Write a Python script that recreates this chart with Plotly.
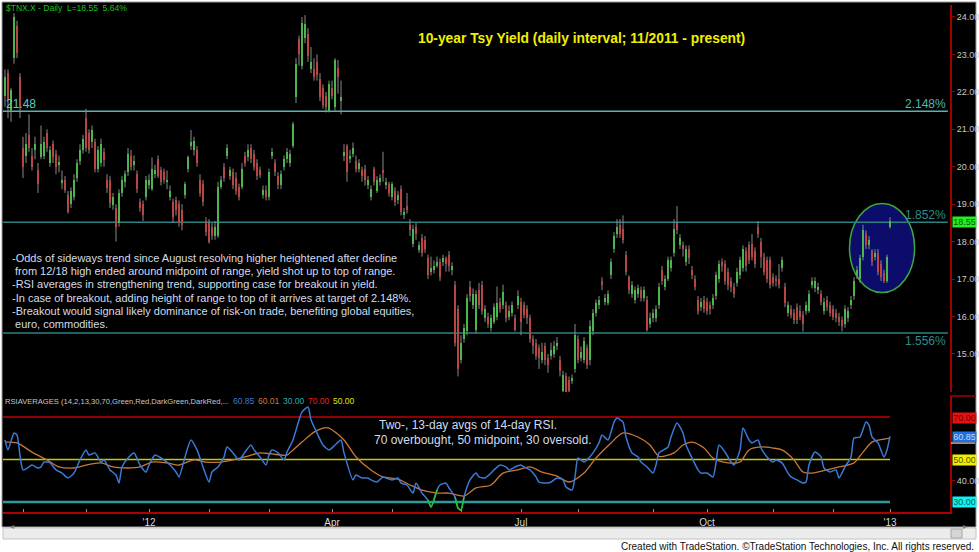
import plotly.graph_objects as go

W, H = 979, 552

# ---------------- data ----------------
opens = [
    21.9, 22.5, 21.5, 22.9, 23.75, 22.4, 20.5, 20.3, 20.85, 20.3,
    20.45, 19.9, 20.25, 20.3, 20.9, 20.1, 20.6, 20.35, 20.05, 19.57,
    19.65, 19.25, 19.0, 19.2, 19.7, 20.15, 20.45, 21.3, 20.9, 20.65,
    20.65, 19.95, 20.1, 20.4, 19.65, 19.65, 18.98, 18.9, 18.5, 19.3,
    19.6, 19.85, 20.3, 20.05, 19.8, 19.05, 19.0, 19.2, 19.5, 19.4,
    19.8, 20.2, 19.9, 19.85, 19.6, 19.2, 19.05, 19.1, 19.0, 18.85,
    19.25, 19.95, 20.55, 20.45, 20.45, 19.65, 19.55, 18.55, 18.5, 18.4,
    18.15, 18.15, 19.45, 20.0, 20.3, 19.75, 19.85, 19.7, 19.45, 19.45,
    20.3, 20.25, 20.5, 20.35, 20.1, 19.9, 19.25, 19.38, 19.2, 20.3,
    20.1, 19.75, 19.5, 20.0, 20.2, 20.1, 20.55, 21.85, 23.4, 22.7,
    23.45, 23.55, 22.6, 22.6, 22.8, 22.35, 22.1, 21.9, 21.5, 22.1,
    21.6, 22.65, 21.75, 20.3, 20.55, 20.2, 20.35, 20.15, 19.95, 19.9,
    19.95, 19.5, 19.2, 19.95, 19.35, 19.6, 19.9, 19.5, 19.55, 19.2,
    19.35, 19.1, 19.4, 18.72, 18.95, 18.45, 17.95, 18.4, 17.78, 18.1,
    18.05, 17.55, 17.2, 17.25, 17.35, 17.45, 17.45, 17.55, 17.65, 17.25,
    16.85, 16.2, 14.85, 15.4, 15.6, 16.8, 16.3, 15.65, 16.7, 16.85,
    15.95, 16.0, 15.7, 15.85, 16.0, 16.4, 16.3, 16.3, 16.0, 16.1,
    15.95, 16.3, 16.4, 16.3, 16.2, 15.95, 15.4, 15.3, 15.15, 14.85,
    15.2, 14.9, 14.95, 15.0, 15.2, 14.85, 14.0, 14.4, 14.3, 14.3,
    14.6, 15.4, 14.9, 14.85, 15.15, 14.85, 15.6, 16.1, 16.3, 16.95,
    16.4, 16.35, 17.1, 17.8, 18.2, 18.45, 18.35, 17.65, 17.05, 16.6,
    16.45, 16.6, 16.7, 16.5, 16.45, 15.8, 15.95, 15.95, 16.3, 17.25,
    16.8, 17.0, 17.3, 17.7, 18.5, 17.9, 17.9, 17.45, 17.8, 17.25,
    17.0, 16.45, 16.25, 16.45, 16.4, 16.3, 16.3, 16.55, 17.0, 17.45,
    17.4, 17.2, 16.95, 16.8, 16.9, 17.1, 17.3, 17.75, 17.9, 17.95,
    17.75, 18.4, 18.0, 17.6, 17.5, 17.5, 17.05, 17.0, 17.0, 17.3,
    16.8, 16.1, 16.2, 16.1, 16.25, 16.15, 16.05, 16.15, 16.15, 16.85,
    16.75, 16.7, 16.6, 16.15, 16.45, 16.3, 16.2, 16.1, 16.0, 15.9,
    15.8, 15.95, 16.3, 16.55, 17.1, 17.0, 17.6, 18.2, 17.9, 17.75,
    17.6, 17.7, 17.4, 17.15, 16.95, 18.4,
]
highs = [
    22.6, 22.6, 22.1, 24.1, 23.9, 22.5, 20.8, 20.9, 21.4, 20.5,
    20.8, 20.1, 21.1, 20.8, 21.0, 20.55, 20.7, 20.45, 20.3, 19.9,
    19.75, 19.35, 19.45, 19.8, 20.2, 20.6, 20.85, 21.55, 21.0, 21.1,
    20.75, 20.55, 20.75, 20.5, 19.8, 19.75, 19.3, 19.0, 19.4, 19.75,
    19.9, 20.5, 20.45, 20.3, 19.9, 19.15, 19.1, 19.75, 19.8, 20.25,
    20.05, 20.3, 20.0, 19.95, 19.9, 19.5, 19.15, 19.2, 19.1, 19.0,
    19.6, 20.3, 20.98, 20.8, 20.55, 19.8, 19.65, 18.65, 18.6, 18.5,
    18.55, 19.6, 19.75, 20.1, 20.6, 20.0, 19.95, 19.85, 19.55, 20.1,
    20.4, 20.6, 20.6, 20.45, 20.2, 20.0, 19.5, 19.5, 19.95, 20.5,
    20.2, 19.85, 19.9, 20.3, 20.5, 20.45, 21.2, 22.9, 23.5, 24.0,
    24.05, 23.7, 23.2, 22.9, 23.0, 22.5, 22.2, 22.0, 22.3, 22.3,
    22.9, 22.85, 22.3, 20.6, 20.6, 20.45, 20.65, 20.3, 20.2, 20.0,
    20.05, 19.75, 19.5, 20.0, 19.75, 19.8, 20.4, 19.7, 19.6, 19.6,
    19.45, 19.35, 19.5, 18.9, 19.3, 18.6, 18.45, 18.5, 18.0, 18.2,
    18.15, 17.65, 17.6, 17.5, 17.6, 17.55, 17.65, 17.6, 17.75, 17.45,
    16.95, 16.3, 15.5, 15.8, 16.6, 16.95, 16.75, 16.7, 16.9, 16.95,
    16.3, 16.1, 16.05, 16.35, 16.8, 16.5, 16.85, 16.4, 16.3, 16.4,
    16.05, 16.7, 16.5, 16.4, 16.3, 16.05, 15.5, 15.4, 15.25, 15.3,
    15.3, 15.0, 15.3, 15.35, 15.45, 14.95, 14.55, 14.5, 14.4, 14.45,
    15.8, 15.5, 15.2, 15.45, 15.25, 15.9, 16.2, 16.45, 16.55, 17.05,
    16.6, 16.7, 17.55, 18.25, 18.6, 18.6, 18.7, 17.75, 17.1, 16.95,
    16.8, 16.85, 16.8, 16.8, 16.55, 16.1, 16.2, 16.3, 16.9, 17.35,
    17.1, 17.6, 17.6, 18.6, 18.95, 18.2, 18.0, 17.9, 17.9, 17.35,
    17.1, 16.55, 16.5, 16.55, 16.5, 16.4, 16.6, 17.2, 17.5, 17.55,
    17.5, 17.3, 17.05, 16.9, 17.3, 17.6, 17.9, 17.85, 18.0, 18.2,
    17.85, 18.55, 18.1, 17.7, 17.6, 17.6, 17.15, 17.1, 17.4, 17.6,
    16.9, 16.4, 16.3, 16.2, 16.35, 16.3, 16.15, 16.4, 16.7, 17.05,
    17.05, 16.9, 16.7, 16.5, 16.55, 16.4, 16.3, 16.2, 16.1, 16.0,
    16.3, 16.25, 16.55, 17.05, 17.35, 17.65, 18.45, 18.3, 18.15, 17.8,
    17.8, 17.8, 17.5, 17.25, 17.65, 18.65,
]
lows = [
    21.6, 21.3, 21.2, 22.75, 22.9, 21.3, 19.7, 20.1, 20.4, 19.9,
    20.2, 19.3, 20.2, 20.2, 20.4, 20.0, 20.1, 19.8, 19.85, 19.4,
    19.3, 18.75, 18.9, 19.1, 19.6, 20.05, 20.35, 20.4, 20.35, 20.5,
    19.85, 19.85, 20.0, 20.0, 19.3, 18.9, 18.85, 18.0, 18.4, 19.2,
    19.45, 19.75, 19.9, 19.9, 19.3, 18.8, 18.55, 19.1, 19.4, 19.35,
    19.7, 19.7, 19.5, 19.55, 19.4, 19.1, 18.5, 18.7, 18.4, 18.3,
    19.15, 19.85, 20.45, 20.3, 20.0, 19.2, 18.95, 18.15, 17.95, 18.05,
    18.05, 18.1, 19.4, 19.6, 20.2, 19.65, 19.4, 19.25, 19.1, 19.4,
    20.0, 20.15, 20.1, 19.9, 19.65, 19.7, 19.15, 19.1, 19.1, 20.2,
    19.75, 19.4, 19.4, 19.9, 20.1, 20.0, 20.5, 21.7, 22.7, 22.6,
    23.3, 22.8, 22.5, 22.3, 22.3, 21.75, 21.55, 21.45, 21.45, 21.8,
    21.5, 21.95, 21.4, 20.15, 19.6, 20.1, 20.25, 19.85, 19.85, 19.6,
    19.5, 19.4, 19.1, 19.5, 19.3, 19.5, 19.6, 19.4, 19.2, 19.1,
    18.95, 19.0, 18.7, 18.6, 18.75, 18.15, 17.85, 18.05, 17.7, 17.6,
    17.7, 17.0, 17.1, 17.15, 17.3, 16.95, 17.35, 17.2, 17.2, 17.1,
    15.2, 14.4, 14.75, 15.3, 15.5, 16.4, 16.2, 15.55, 16.2, 16.05,
    15.85, 15.7, 15.6, 15.8, 15.9, 16.1, 16.2, 15.85, 15.9, 16.0,
    15.6, 16.2, 15.5, 15.95, 15.8, 15.3, 15.0, 14.85, 14.6, 14.75,
    14.7, 14.5, 14.85, 14.9, 15.1, 14.4, 13.95, 13.9, 13.95, 14.2,
    14.5, 14.75, 14.8, 14.75, 14.6, 14.7, 15.5, 16.0, 16.2, 16.7,
    16.3, 16.3, 17.0, 17.7, 18.1, 18.1, 17.95, 17.1, 16.6, 16.5,
    16.35, 16.5, 16.4, 16.4, 15.6, 15.7, 15.85, 15.85, 16.2, 16.85,
    16.7, 16.95, 17.2, 17.6, 18.2, 17.8, 17.6, 17.35, 17.4, 17.0,
    16.7, 16.05, 16.15, 16.1, 16.05, 16.05, 16.2, 16.45, 16.9, 17.2,
    16.85, 16.7, 16.65, 16.5, 16.8, 17.0, 17.2, 17.2, 17.4, 17.5,
    17.3, 18.1, 17.3, 17.1, 16.9, 16.75, 16.8, 16.8, 16.75, 17.2,
    16.25, 16.0, 15.95, 15.8, 15.8, 15.9, 15.6, 16.05, 16.1, 16.75,
    16.65, 16.6, 16.3, 16.05, 16.15, 16.0, 15.9, 15.85, 15.75, 15.6,
    15.7, 15.85, 16.2, 16.45, 17.0, 16.9, 17.5, 17.8, 17.8, 17.35,
    17.5, 17.1, 16.95, 16.9, 16.9, 18.35,
]
closes = [
    22.4, 21.8, 22.05, 24.0, 23.05, 21.6, 20.0, 20.6, 20.5, 20.0,
    20.6, 19.55, 20.6, 20.65, 20.5, 20.45, 20.25, 20.0, 20.12, 19.65,
    19.38, 18.8, 19.35, 19.65, 20.1, 20.45, 20.75, 20.5, 20.45, 20.98,
    19.95, 20.45, 20.6, 20.18, 19.43, 19.03, 19.18, 18.4, 19.3, 19.65,
    19.8, 20.35, 20.0, 20.15, 19.4, 18.9, 18.7, 19.65, 19.65, 19.95,
    19.9, 19.75, 19.6, 19.65, 19.65, 19.35, 18.65, 18.85, 18.5, 18.45,
    19.55, 20.25, 20.65, 20.7, 20.1, 19.3, 19.05, 18.25, 18.0, 18.15,
    18.4, 19.45, 19.65, 19.7, 20.5, 19.9, 19.5, 19.35, 19.2, 19.95,
    20.1, 20.45, 20.2, 20.0, 19.75, 19.78, 19.38, 19.2, 19.85, 20.4,
    19.85, 19.5, 19.8, 20.2, 20.4, 20.35, 21.15, 22.75, 23.0, 23.85,
    23.8, 22.95, 22.8, 22.4, 22.45, 21.85, 21.65, 21.6, 22.2, 21.9,
    22.85, 22.4, 21.85, 20.4, 19.85, 20.3, 20.5, 19.95, 20.1, 19.75,
    19.65, 19.65, 19.4, 19.6, 19.65, 19.7, 19.82, 19.6, 19.3, 19.55,
    19.05, 19.25, 18.8, 18.8, 18.85, 18.3, 18.35, 18.2, 17.9, 17.7,
    17.8, 17.1, 17.3, 17.35, 17.45, 17.05, 17.55, 17.4, 17.35, 17.35,
    15.3, 14.6, 15.3, 15.7, 16.5, 16.55, 16.6, 16.6, 16.3, 16.15,
    16.2, 15.8, 15.95, 16.25, 16.35, 16.2, 16.65, 15.95, 16.15, 16.3,
    15.65, 16.55, 15.85, 16.05, 15.95, 15.4, 15.2, 14.95, 14.9, 15.05,
    14.85, 14.7, 15.1, 15.2, 15.3, 14.55, 14.45, 13.95, 14.0, 14.35,
    15.5, 14.85, 15.05, 15.35, 14.7, 15.75, 16.1, 16.35, 16.45, 16.85,
    16.5, 16.6, 17.45, 18.15, 18.4, 18.2, 18.05, 17.2, 16.7, 16.85,
    16.7, 16.75, 16.5, 16.7, 15.65, 15.95, 16.1, 16.2, 16.8, 16.95,
    17.0, 17.5, 17.5, 18.35, 18.3, 18.1, 17.8, 17.8, 17.55, 17.1,
    16.8, 16.15, 16.4, 16.2, 16.15, 16.2, 16.5, 17.1, 17.4, 17.35,
    16.95, 16.85, 16.8, 16.6, 17.2, 17.5, 17.8, 17.35, 17.5, 17.6,
    17.4, 18.2, 17.6, 17.2, 17.0, 16.85, 16.9, 16.95, 16.85, 17.5,
    16.35, 16.3, 16.05, 15.9, 15.9, 16.0, 15.8, 16.3, 16.6, 16.95,
    16.95, 16.8, 16.4, 16.4, 16.25, 16.1, 16.0, 15.95, 15.85, 15.75,
    16.2, 16.15, 16.45, 16.95, 17.25, 17.55, 18.3, 17.9, 18.05, 17.45,
    17.7, 17.2, 17.05, 16.95, 17.6, 18.55,
]

# x-axis (bar index) month ticks and labels
month_tick_pos = [6, 27, 48, 68, 88, 109, 129, 152, 172, 191, 216, 234, 256, 276, 295]
month_tick_text = ["", "", "'12", "", "", "Apr", "", "", "Jul", "", "", "Oct", "", "", "'13"]

price_ticks = [15, 16, 17, 18, 19, 20, 21, 22, 23, 24]
rsi_ticks = [40]

# RSI averages (2-day avg = blue, 13-day avg = orange)
blue_x = [0, 1, 3, 4, 5, 6, 8, 9, 11, 12, 13, 15, 17, 19, 21, 23, 25, 27, 28, 30,
          32, 33, 35, 37, 38, 39, 41, 43, 45, 47, 48, 50, 52, 53, 55, 57, 58, 60, 62, 64,
          66, 68, 69, 71, 73, 74, 76, 78, 80, 82, 83, 85, 87, 88, 89, 91, 93, 94, 96, 98,
          99, 101, 102, 104, 106, 108, 110, 112, 113, 116, 117, 119, 121, 122, 124, 126, 127, 129, 131, 132,
          134, 136, 137, 139, 141, 142, 144, 145, 147, 148, 150, 151, 152, 153, 155, 157, 158, 160, 162, 163,
          165, 167, 168, 170, 172, 173, 175, 177, 178, 181, 182, 184, 186, 187, 189, 190, 191, 193, 194, 196,
          198, 199, 201, 203, 204, 206, 207, 209, 211, 212, 214, 216, 217, 218, 221, 222, 224, 226, 227, 229,
          231, 232, 234, 236, 237, 238, 240, 242, 243, 245, 246, 248, 249, 251, 252, 254, 256, 257, 259, 261,
          262, 264, 266, 267, 268, 270, 272, 273, 275, 277, 278, 280, 282, 283, 285, 287, 288, 289, 291, 293,
          294, 295]
blue_y = [59.2, 54.5, 62.5, 61.5, 52.0, 45.1, 46.5, 47.4, 46.0, 46.5, 48.8, 48.4, 45.1, 43.6, 41.3, 43.6, 49.8, 54.5, 52.1, 53.1,
          48.8, 49.8, 45.1, 42.7, 38.9, 46.5, 50.7, 53.1, 47.4, 44.1, 47.4, 52.1, 50.7, 49.8, 47.4, 44.1, 41.8, 51.2, 59.2, 54.5,
          46.5, 39.4, 44.1, 46.5, 51.2, 55.9, 53.1, 49.8, 53.5, 56.8, 54.5, 51.2, 47.4, 52.1, 54.5, 53.1, 49.8, 53.5, 59.2, 68.6,
          72.4, 74.7, 68.6, 62.5, 56.8, 54.5, 56.8, 59.2, 53.1, 40.4, 42.7, 41.3, 41.3, 40.4, 39.4, 41.8, 41.3, 40.4, 41.3, 38.9,
          38.0, 34.2, 38.9, 34.2, 30.9, 27.6, 35.6, 38.0, 38.9, 36.6, 32.4, 27.2, 26.2, 32.4, 40.4, 43.6, 41.8, 41.3, 43.6, 45.1,
          47.4, 46.5, 45.1, 46.5, 47.4, 46.5, 45.1, 41.8, 39.4, 38.9, 39.4, 41.3, 40.4, 37.1, 35.6, 41.8, 50.7, 48.8, 49.8, 53.1,
          57.8, 61.5, 59.2, 67.6, 69.5, 67.6, 60.6, 53.1, 51.2, 48.8, 46.5, 43.6, 47.4, 53.1, 55.9, 60.6, 67.2, 62.5, 56.8, 50.7,
          45.1, 43.6, 43.6, 41.8, 48.4, 56.8, 53.5, 48.8, 47.4, 54.5, 64.8, 59.2, 57.8, 59.2, 55.4, 51.2, 48.8, 49.8, 48.4, 43.6,
          41.8, 40.4, 38.9, 39.4, 47.4, 53.5, 51.2, 46.0, 44.1, 45.1, 41.3, 46.5, 51.2, 60.1, 60.6, 67.6, 66.2, 60.6, 57.8, 51.2,
          54.5, 60.85]
orange_x = [0, 4, 9, 14, 18, 23, 27, 32, 36, 41, 45, 49, 54, 58, 63, 67, 72, 76, 81, 85,
            89, 94, 96, 99, 103, 106, 108, 113, 117, 122, 126, 131, 135, 139, 144, 148, 153, 157, 162, 166,
            171, 175, 179, 184, 188, 193, 197, 202, 206, 211, 215, 218, 223, 226, 229, 233, 236, 241, 245, 248,
            252, 256, 259, 263, 266, 269, 274, 278, 283, 286, 289, 293, 295]
orange_y = [58.2, 57.8, 53.5, 49.8, 46.5, 46.0, 47.4, 48.4, 46.5, 46.0, 46.5, 48.8, 48.4, 47.4, 49.8, 48.8, 48.8, 49.8, 51.6, 53.1,
            52.6, 52.1, 54.5, 58.2, 62.9, 64.8, 64.8, 59.2, 51.2, 45.1, 41.8, 40.8, 38.0, 35.6, 34.2, 34.2, 32.8, 36.6, 38.0, 43.6,
            45.1, 46.5, 44.1, 42.2, 39.4, 43.6, 50.7, 57.8, 62.5, 60.6, 56.8, 51.5, 53.1, 56.8, 58.2, 55.4, 50.7, 48.4, 48.8, 54.5,
            55.9, 55.4, 54.5, 49.8, 44.1, 43.6, 45.1, 46.5, 48.4, 53.5, 58.2, 59.6, 60.01]
green_ranges = [(141, 144), (150, 153)]

level_lines = [21.48, 18.52, 15.56]
level_colors = ["#52b4b4", "#2c8282", "#2c8282"]
rsi_levels = [70, 50, 30]
rsi_level_colors = ["#c00000", "#c8c800", "#2a9a9a"]
rsi_level_widths = [1.5, 1.5, 2.5]

comment_lines = [
    "-Odds of sideways trend since August resolving higher heightened after decline",
    " from 12/18 high ended around midpoint of range, yield shot up to top of range.",
    "-RSI averages in strengthening trend, supporting case for breakout in yield.",
    "-In case of breakout, adding height of range to top of it arrives at target of 2.148%.",
    "-Breakout would signal likely dominance of risk-on trade, benefiting global equities,",
    " euro, commodities.",
]

FONT = "Liberation Sans, Arial, sans-serif"


def px(x):
    return x / W


def py(y):
    return 1 - y / H


fig = go.Figure()
n = min(len(opens), len(highs), len(lows), len(closes))
idx = list(range(n))

# wicks
wx, wy = [], []
for i in idx:
    wx += [i, i, None]
    wy += [lows[i], highs[i], None]
fig.add_trace(go.Scatter(x=wx, y=wy, mode="lines", line=dict(color="#8a8a8a", width=1),
                         xaxis="x", yaxis="y", hoverinfo="skip"))

up = [i for i in idx if closes[i] >= opens[i]]
dn = [i for i in idx if closes[i] < opens[i]]
fig.add_trace(go.Bar(x=up, base=[opens[i] for i in up], y=[max(closes[i] - opens[i], 0.03) for i in up],
                     width=0.8, marker=dict(color="#10e010", line=dict(width=0)), xaxis="x", yaxis="y"))
fig.add_trace(go.Bar(x=dn, base=[closes[i] for i in dn], y=[opens[i] - closes[i] for i in dn],
                     width=0.8, marker=dict(color="#e80000", line=dict(width=0)), xaxis="x", yaxis="y"))

# RSI lines
fig.add_trace(go.Scatter(x=orange_x, y=orange_y, mode="lines",
                         line=dict(color="#c87838", width=1.3, shape="spline", smoothing=0.8),
                         xaxis="x2", yaxis="y2", hoverinfo="skip"))
fig.add_trace(go.Scatter(x=blue_x, y=blue_y, mode="lines",
                         line=dict(color="#3a7ad8", width=1.5, shape="spline", smoothing=0.6),
                         xaxis="x2", yaxis="y2", hoverinfo="skip"))
for a, b in green_ranges:
    gx = [x for x in blue_x if a <= x <= b]
    gy = [blue_y[k] for k, x in enumerate(blue_x) if a <= x <= b]
    fig.add_trace(go.Scatter(x=gx, y=gy, mode="lines",
                             line=dict(color="#22c822", width=1.6, shape="spline", smoothing=0.6),
                             xaxis="x2", yaxis="y2", hoverinfo="skip"))

shapes = []
# black chart frame
shapes.append(dict(type="rect", xref="paper", yref="paper", x0=px(2), x1=px(976), y0=py(527), y1=py(2),
                   fillcolor="black", line=dict(color="#9a9a9a", width=1), layer="below"))
# ellipse highlight
shapes.append(dict(type="circle", xref="x", yref="y", x0=281.5, x1=303.2, y0=16.64, y1=19.02,
                   fillcolor="#0c0c6a", line=dict(color="#3ca83c", width=1.5), layer="below"))
# price levels
for lv, col in zip(level_lines, level_colors):
    shapes.append(dict(type="line", xref="x", yref="y", x0=-0.667, x1=314.3, y0=lv, y1=lv,
                       line=dict(color=col, width=1.5), layer="below"))
# RSI levels
for lv, col, wd in zip(rsi_levels, rsi_level_colors, rsi_level_widths):
    shapes.append(dict(type="line", xref="x2", yref="y2", x0=-0.667, x1=295, y0=lv, y1=lv,
                       line=dict(color=col, width=wd), layer="below"))
# right axis separator and orange marker
shapes.append(dict(type="line", xref="paper", yref="paper", x0=px(950), x1=px(976), y0=py(396), y1=py(396),
                   line=dict(color="#a00000", width=1.5)))
shapes.append(dict(type="rect", xref="paper", yref="paper", x0=px(951), x1=px(975), y0=py(444), y1=py(442),
                   fillcolor="#e08030", line=dict(width=0)))
# scrollbar
shapes.append(dict(type="rect", xref="paper", yref="paper", x0=px(3), x1=px(976), y0=py(539), y1=py(528),
                   fillcolor="#ececec", line=dict(color="#c4c4c4", width=1)))
shapes.append(dict(type="rect", xref="paper", yref="paper", x0=px(951), x1=px(962), y0=py(538), y1=py(529),
                   fillcolor="#d6d6d6", line=dict(color="#a8a8a8", width=1)))

ann = []
ann.append(dict(text="$TNX.X - Daily  L=18.55  5.64%", x=px(4), y=py(8), xref="paper", yref="paper",
                xanchor="left", yanchor="middle", showarrow=False,
                font=dict(family=FONT, size=8.5, color="#18c018")))
ann.append(dict(text="<b>10-year Tsy Yield (daily interval; 11/2011 - present)</b>", x=px(581), y=py(39),
                xref="paper", yref="paper", xanchor="center", yanchor="middle", showarrow=False,
                font=dict(family=FONT, size=13.8, color="#f0f000")))
ann.append(dict(text="21.48", x=px(4), y=py(104), xref="paper", yref="paper", xanchor="left", yanchor="middle",
                showarrow=False, font=dict(family=FONT, size=12, color="#60c8c8")))
ann.append(dict(text="2.148%", x=px(948), y=py(104), xref="paper", yref="paper", xanchor="right",
                yanchor="middle", showarrow=False, font=dict(family=FONT, size=12, color="#48b8b8")))
ann.append(dict(text="1.852%", x=px(948), y=py(215), xref="paper", yref="paper", xanchor="right",
                yanchor="middle", showarrow=False, font=dict(family=FONT, size=12, color="#2e8c8c")))
ann.append(dict(text="1.556%", x=px(948), y=py(341), xref="paper", yref="paper", xanchor="right",
                yanchor="middle", showarrow=False, font=dict(family=FONT, size=12, color="#2e8c8c")))
for k, line in enumerate(comment_lines):
    ann.append(dict(text=line.replace(" ", "&nbsp;", 1) if line.startswith(" ") else line,
                    x=px(10), y=py(258 + 13.2 * k), xref="paper", yref="paper",
                    xanchor="left", yanchor="middle", showarrow=False,
                    font=dict(family=FONT, size=11, color="#d4dcea")))
ann.append(dict(text="RSIAVERAGES (14,2,13,30,70,Green,Red,DarkGreen,DarkRed,...", x=px(3), y=py(401),
                xref="paper", yref="paper", xanchor="left", yanchor="middle", showarrow=False,
                font=dict(family=FONT, size=7.6, color="#c8c8c8")))
for txt, xx, col in [("60.85", 231, "#3a7ad8"), ("60.01", 256, "#d07838"), ("30.00", 281, "#20b0b0"),
                     ("70.00", 306, "#e02020"), ("50.00", 331, "#e0e000")]:
    ann.append(dict(text=txt, x=px(xx), y=py(401), xref="paper", yref="paper", xanchor="left",
                    yanchor="middle", showarrow=False, font=dict(family=FONT, size=8.5, color=col)))
ann.append(dict(text="Two-, 13-day avgs of 14-day RSI.", x=px(377), y=py(425), xref="paper", yref="paper",
                xanchor="left", yanchor="middle", showarrow=False,
                font=dict(family=FONT, size=12, color="#d0dcf0")))
ann.append(dict(text="70 overbought, 50 midpoint, 30 oversold.", x=px(372), y=py(440), xref="paper",
                yref="paper", xanchor="left", yanchor="middle", showarrow=False,
                font=dict(family=FONT, size=12, color="#d0dcf0")))
# right axis value boxes
for txt, yy, bg, fg in [("18.55", 222, "#20f020", "#005000"), ("70.00", 417.5, "#e81010", "#700000"),
                        ("60.85", 437, "#2070e0", "#c8d8f0"), ("50.00", 459.5, "#f0f000", "#505000"),
                        ("30.00", 502, "#10f0f0", "#006060")]:
    ann.append(dict(text=txt, x=px(952), y=py(yy), xref="paper", yref="paper", xanchor="left",
                    yanchor="middle", showarrow=False, bgcolor=bg, width=22, height=9, borderpad=0.5,
                    font=dict(family=FONT, size=9, color=fg)))
ann.append(dict(text="◂", x=px(8), y=py(533), xref="paper", yref="paper", showarrow=False,
                font=dict(size=8, color="#808080")))
ann.append(dict(text="▸", x=px(969), y=py(533), xref="paper", yref="paper", showarrow=False,
                font=dict(size=8, color="#808080")))
ann.append(dict(text="Created with TradeStation. ©TradeStation Technologies, Inc. All rights reserved.",
                x=px(976), y=py(546), xref="paper", yref="paper", xanchor="right", yanchor="middle",
                showarrow=False, font=dict(family=FONT, size=10, color="#101010")))

axis_common = dict(showgrid=False, zeroline=False)
fig.update_layout(
    width=W, height=H, margin=dict(l=0, r=0, t=0, b=0),
    paper_bgcolor="white", plot_bgcolor="black",
    showlegend=False, barmode="overlay", bargap=0,
    font=dict(family=FONT, color="#c8c8c8"),
    xaxis=dict(domain=[px(3), px(950)], range=[-0.667, 315], showticklabels=False, ticks="",
               showline=False, anchor="y", **axis_common),
    yaxis=dict(domain=[py(392), py(5)], range=[13.984, 24.32], side="right", anchor="x",
               tickvals=price_ticks, ticktext=[f"{v:.2f}" for v in price_ticks],
               ticks="outside", ticklen=3, tickcolor="#a00000",
               showline=True, linecolor="#a00000", linewidth=2,
               tickfont=dict(family=FONT, size=9, color="#c8c8c8"), **axis_common),
    xaxis2=dict(domain=[px(3), px(950)], range=[-0.667, 315], matches="x", anchor="y2",
                tickvals=month_tick_pos, ticktext=month_tick_text, ticks="inside", ticklen=3,
                tickcolor="#909090", showline=True, linecolor="#b00000", linewidth=2,
                tickfont=dict(family=FONT, size=10, color="#d8d8d8"), **axis_common),
    yaxis2=dict(domain=[py(512), py(396)], range=[25.29, 79.88], side="right", anchor="x2",
                tickvals=rsi_ticks, ticktext=[f"{v:.2f}" for v in rsi_ticks],
                ticks="outside", ticklen=3, tickcolor="#a00000",
                showline=True, linecolor="#a00000", linewidth=2,
                tickfont=dict(family=FONT, size=9, color="#c8c8c8"), **axis_common),
    shapes=shapes, annotations=ann,
)

fig.write_html("out.html")
